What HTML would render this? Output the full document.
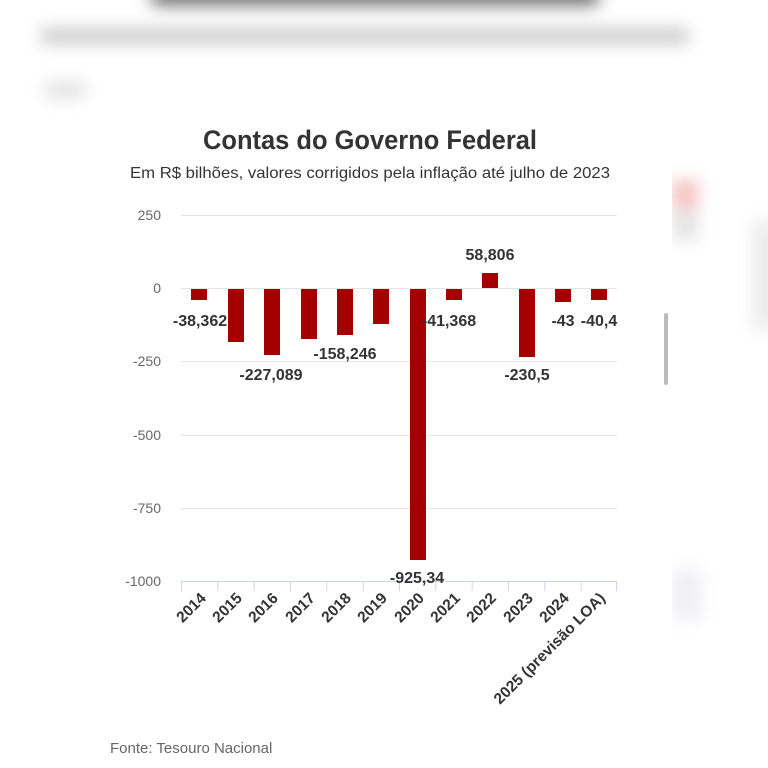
<!DOCTYPE html>
<html><head><meta charset="utf-8"><style>
html,body{margin:0;padding:0;width:768px;height:768px;overflow:hidden;background:#fff;font-family:"Liberation Sans",sans-serif}
.bl{position:absolute;filter:blur(8px)}
</style></head><body>
<div class="bl" style="left:150px;top:-16px;width:450px;height:22px;background:#555;border-radius:10px;opacity:.8"></div>
<div class="bl" style="left:40px;top:28px;width:650px;height:16px;background:#999;border-radius:8px;opacity:.5"></div>
<div class="bl" style="left:45px;top:82px;width:40px;height:16px;background:#aaa;opacity:.35"></div>
<div class="bl" style="left:672px;top:180px;width:26px;height:30px;background:#e88;opacity:.5"></div>
<div class="bl" style="left:672px;top:210px;width:26px;height:30px;background:#bbb;opacity:.4"></div>
<div class="bl" style="left:752px;top:220px;width:30px;height:110px;background:#ccc;opacity:.35"></div>
<div class="bl" style="left:672px;top:570px;width:30px;height:50px;background:#ccd;opacity:.3"></div>
<div style="position:absolute;left:97px;top:95px;width:575px;height:673px;background:#fff"></div>
<div style="position:absolute;left:664px;top:313px;width:4px;height:72px;background:#bbb;border-radius:2px"></div>
<svg width="768" height="768" style="position:absolute;left:0;top:0" font-family="Liberation Sans, sans-serif">
<text x="370" y="149" text-anchor="middle" font-size="27" font-weight="bold" fill="#333" textLength="334" lengthAdjust="spacingAndGlyphs">Contas do Governo Federal</text>
<text x="370" y="178" text-anchor="middle" font-size="16" fill="#333" textLength="480" lengthAdjust="spacingAndGlyphs">Em R$ bilhões, valores corrigidos pela inflação até julho de 2023</text>
<g stroke="#e6e6e6" stroke-width="1">
<line x1="181" x2="617" y1="215.5" y2="215.5"/><line x1="181" x2="617" y1="288.5" y2="288.5"/>
<line x1="181" x2="617" y1="361.5" y2="361.5"/><line x1="181" x2="617" y1="435.5" y2="435.5"/>
<line x1="181" x2="617" y1="508.5" y2="508.5"/>
</g>
<g stroke="#ccd6eb" stroke-width="1">
<line x1="181" x2="617" y1="581.5" y2="581.5"/>
<line x1="181.5" x2="181.5" y1="581" y2="591"/><line x1="217.8" x2="217.8" y1="581" y2="591"/><line x1="254.2" x2="254.2" y1="581" y2="591"/><line x1="290.5" x2="290.5" y1="581" y2="591"/><line x1="326.8" x2="326.8" y1="581" y2="591"/><line x1="363.2" x2="363.2" y1="581" y2="591"/><line x1="399.5" x2="399.5" y1="581" y2="591"/><line x1="435.8" x2="435.8" y1="581" y2="591"/><line x1="472.2" x2="472.2" y1="581" y2="591"/><line x1="508.5" x2="508.5" y1="581" y2="591"/><line x1="544.8" x2="544.8" y1="581" y2="591"/><line x1="581.2" x2="581.2" y1="581" y2="591"/><line x1="616.5" x2="616.5" y1="581" y2="591"/>
</g>
<g font-size="14" fill="#666" text-anchor="end">
<text x="161" y="220">250</text><text x="161" y="293">0</text><text x="161" y="366">-250</text><text x="161" y="440">-500</text><text x="161" y="513">-750</text><text x="161" y="586">-1000</text>
</g>
<g fill="#a50000">
<rect x="191" y="289" width="16" height="11"/>
<rect x="228" y="289" width="16" height="53"/>
<rect x="264" y="289" width="16" height="66"/>
<rect x="301" y="289" width="16" height="50"/>
<rect x="337" y="289" width="16" height="46"/>
<rect x="373" y="289" width="16" height="35"/>
<rect x="410" y="289" width="16" height="271"/>
<rect x="446" y="289" width="16" height="11"/>
<rect x="482" y="273" width="16" height="15"/>
<rect x="519" y="289" width="16" height="68"/>
<rect x="555" y="289" width="16" height="13"/>
<rect x="591" y="289" width="16" height="11"/>
</g>
<g font-size="16" font-weight="bold" fill="#333" text-anchor="middle">
<text x="200" y="326">-38,362</text>
<text x="271" y="380">-227,089</text>
<text x="345" y="359">-158,246</text>
<text x="417" y="583">-925,34</text>
<text x="449" y="326">-41,368</text>
<text x="490" y="260">58,806</text>
<text x="527" y="380">-230,5</text>
<text x="563" y="326">-43</text>
<text x="599" y="326">-40,4</text>
</g>
<g font-size="15.5" font-weight="bold" fill="#333" text-anchor="end">
<text transform="translate(207,599) rotate(-45)">2014</text>
<text transform="translate(243,599) rotate(-45)">2015</text>
<text transform="translate(279,599) rotate(-45)">2016</text>
<text transform="translate(316,599) rotate(-45)">2017</text>
<text transform="translate(352,599) rotate(-45)">2018</text>
<text transform="translate(388,599) rotate(-45)">2019</text>
<text transform="translate(425,599) rotate(-45)">2020</text>
<text transform="translate(461,599) rotate(-45)">2021</text>
<text transform="translate(497,599) rotate(-45)">2022</text>
<text transform="translate(534,599) rotate(-45)">2023</text>
<text transform="translate(570,599) rotate(-45)">2024</text>
<text transform="translate(606,599) rotate(-45)">2025 (previsão LOA)</text>
</g>
<text x="110" y="753" font-size="15" fill="#666">Fonte: Tesouro Nacional</text>
</svg>
</body></html>
